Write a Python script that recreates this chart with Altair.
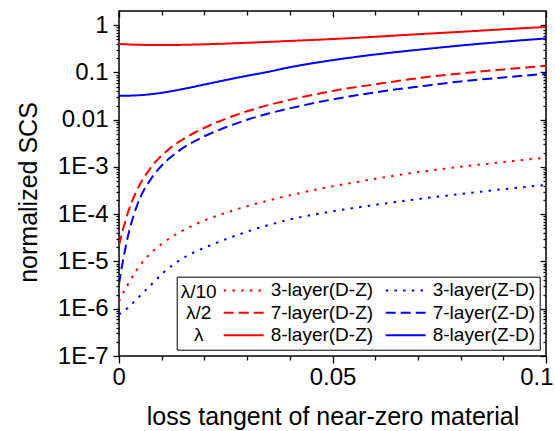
import altair as alt
import pandas as pd

# ---------------- data ----------------
series_names = ["3-layer(D-Z)", "7-layer(D-Z)", "8-layer(D-Z)",
                "3-layer(Z-D)", "7-layer(Z-D)", "8-layer(Z-D)"]
series_colors = ["#ff0000", "#ff0000", "#ff0000", "#0000ff", "#0000ff", "#0000ff"]

x_3dz = [0, 0.002, 0.004, 0.006, 0.008, 0.01, 0.0125, 0.015, 0.0175, 0.02, 0.025, 0.03,
         0.035, 0.04, 0.05, 0.06, 0.07, 0.08, 0.09, 0.1]
y_3dz = [1.45e-6, 3.16e-6, 6.31e-6, 1.10e-5, 1.66e-5, 2.34e-5, 3.39e-5, 4.57e-5, 5.89e-5,
         7.41e-5, 1.07e-4, 1.48e-4, 1.95e-4, 2.51e-4, 3.89e-4, 5.62e-4, 7.76e-4, 1.01e-3,
         1.27e-3, 1.58e-3]

x_3zd = [0, 0.002, 0.004, 0.006, 0.008, 0.01, 0.0125, 0.015, 0.0175, 0.02, 0.025, 0.03,
         0.035, 0.04, 0.05, 0.06, 0.07, 0.08, 0.09, 0.1]
y_3zd = [7.59e-7, 1.02e-6, 1.55e-6, 2.34e-6, 3.55e-6, 5.37e-6, 8.32e-6, 1.17e-5, 1.55e-5,
         1.95e-5, 2.95e-5, 4.27e-5, 5.89e-5, 7.76e-5, 1.15e-4, 1.58e-4, 2.09e-4, 2.69e-4,
         3.39e-4, 4.17e-4]

x_7dz = [0, 0.001, 0.002, 0.003, 0.004, 0.005, 0.006, 0.007, 0.008, 0.009, 0.01, 0.012,
         0.014, 0.016, 0.018, 0.02, 0.025, 0.03, 0.035, 0.04, 0.05, 0.06, 0.07, 0.08,
         0.09, 0.1]
y_7dz = [2.19e-5, 5.0e-5, 1.02e-4, 1.82e-4, 2.95e-4, 4.47e-4, 6.3e-4, 8.5e-4, 1.12e-3,
         1.41e-3, 1.74e-3, 2.51e-3, 3.39e-3, 4.37e-3, 5.5e-3, 6.76e-3, 0.0105, 0.0151,
         0.0204, 0.0263, 0.0407, 0.0562, 0.0759, 0.0955, 0.116, 0.138]

x_7zd = [0, 0.0005, 0.001, 0.002, 0.003, 0.004, 0.005, 0.006, 0.007, 0.008, 0.009, 0.01,
         0.012, 0.014, 0.016, 0.018, 0.02, 0.025, 0.03, 0.035, 0.04, 0.05, 0.06, 0.07,
         0.08, 0.09, 0.1]
y_7zd = [3.31e-6, 6.31e-6, 1.12e-5, 3.16e-5, 7.08e-5, 1.35e-4, 2.29e-4, 3.47e-4, 4.79e-4,
         6.46e-4, 8.51e-4, 1.07e-3, 1.58e-3, 2.19e-3, 2.88e-3, 3.63e-3, 4.47e-3, 6.92e-3,
         0.01, 0.0135, 0.0174, 0.0269, 0.038, 0.0501, 0.0646, 0.0785, 0.0933]

x_8dz = [0, 0.005, 0.01, 0.02, 0.03, 0.04, 0.05, 0.06, 0.07, 0.08, 0.09, 0.1]
y_8dz = [0.40, 0.385, 0.38, 0.395, 0.425, 0.465, 0.51, 0.57, 0.645, 0.725, 0.82, 0.92]

x_8zd = [0, 0.005, 0.01, 0.015, 0.02, 0.025, 0.03, 0.035, 0.04, 0.045, 0.05, 0.06, 0.07,
         0.08, 0.09, 0.1]
y_8zd = [0.032, 0.0331, 0.0372, 0.0447, 0.0556, 0.0692, 0.0851, 0.1035, 0.129, 0.155,
         0.182, 0.24, 0.302, 0.372, 0.447, 0.525]

series_x = [x_3dz, x_7dz, x_8dz, x_3zd, x_7zd, x_8zd]
series_y = [y_3dz, y_7dz, y_8dz, y_3zd, y_7zd, y_8zd]

legend_title_lines = ["λ/10", "λ/2", "λ"]

x_tick_values = [round(i * 0.01, 2) for i in range(11)]
x_tick_labels = {0.0: "0", 0.05: "0.05", 0.1: "0.1"}
y_decades = [1e-7, 1e-6, 1e-5, 1e-4, 1e-3, 1e-2, 1e-1, 1.0]
y_decade_labels = ["1E-7", "1E-6", "1E-5", "1E-4", "1E-3", "0.01", "0.1", "1"]

# ---------------- styling ----------------
series_dashes = [[2.5, 6.2], [10, 5], [1, 0], [2.5, 6.2], [10, 5], [1, 0]]
FONT = "Liberation Sans"

rows = []
for name, xs, ys in zip(series_names, series_x, series_y):
    for xv, yv in zip(xs, ys):
        rows.append({"series": name, "x": xv, "y": yv})
df = pd.DataFrame(rows)

y_tick_values = []
for d in y_decades:
    for k in range(1, 10):
        v = k * d
        if v <= 1.0 + 1e-12:
            y_tick_values.append(float(f"{v:.10g}"))

x_major_test = "abs(datum.value*20 - round(datum.value*20)) < 0.001"
y_major_test = "abs(log(datum.value)/LN10 - round(log(datum.value)/LN10)) < 0.001"

x_label_expr = ""
for v, lab in x_tick_labels.items():
    x_label_expr += f"abs(datum.value - {v}) < 1e-9 ? '{lab}' : "
x_label_expr += "''"

y_label_expr = ""
for v, lab in zip(y_decades, y_decade_labels):
    y_label_expr += f"abs(log(datum.value/{v})) < 0.001 ? '{lab}' : "
y_label_expr += "''"

x_scale = alt.Scale(domain=[0, 0.1], nice=False, zero=False)
y_scale = alt.Scale(type="log", domain=[1e-7, 2.0], nice=False)

bottom_axis = alt.Axis(
    orient="bottom", values=x_tick_values, labelExpr=x_label_expr,
    tickSize=7, tickWidth=1.3, tickColor="black",
    tickDash={"condition": {"test": x_major_test, "value": [7, 0]}, "value": [4, 20]},
    domain=False, grid=False,
    labelFont=FONT, labelFontSize=24, labelColor="black", labelPadding=2,
    labelFlush=True, labelFlushOffset=7, labelOverlap=False,
    title="loss tangent of near-zero material", titleFont=FONT, titleFontSize=25,
    titleFontWeight="normal", titleColor="black", titlePadding=15,
)
left_axis = alt.Axis(
    orient="left", values=y_tick_values, labelExpr=y_label_expr,
    tickSize=6, tickWidth=1.3, tickColor="black",
    tickDash={"condition": {"test": y_major_test, "value": [6, 0]}, "value": [3, 20]},
    domain=False, grid=False,
    labelFont=FONT, labelFontSize=24, labelColor="black", labelPadding=5,
    labelFlush=False, labelOverlap=False,
    title="normalized SCS", titleFont=FONT, titleFontSize=25, titleFontWeight="normal",
    titleColor="black", titlePadding=16, titleY=181,
)
# inward ticks along the top edge (grid lines dashed so only the edge piece shows)
top_axis = alt.Axis(
    orient="bottom", values=x_tick_values, labels=False, ticks=False, domain=False,
    grid=True, gridColor="black", gridWidth=1.3, gridOpacity=1,
    gridDash={"condition": {"test": x_major_test, "value": [6, 2000]}, "value": [4, 2000]},
    title=None,
)
# inward ticks along the right edge
right_axis = alt.Axis(
    orient="right", values=y_tick_values, labels=False, ticks=False, domain=False,
    grid=True, gridColor="black", gridWidth=1.3, gridOpacity=1,
    gridDash={"condition": {"test": y_major_test, "value": [6, 2000]}, "value": [3, 2000]},
    title=None,
)

leg = alt.Legend(
    title=legend_title_lines, titleOrient="left", titleAlign="center",
    titleFont=FONT, titleFontSize=19, titleFontWeight="normal", titleColor="black",
    titleLineHeight=21.5, titlePadding=-12,
    columns=2, orient="none", legendX=57.7, legendY=265.7,
    symbolType="stroke", symbolSize=1600, symbolStrokeWidth=2, clipHeight=19,
    labelFont=FONT, labelFontSize=19, labelColor="black", labelOffset=6, labelLimit=300,
    columnPadding=11, rowPadding=2.5, padding=4,
    strokeColor="black", fillColor="white",
)

color_scale = alt.Scale(domain=series_names, range=series_colors)
dash_scale = alt.Scale(domain=series_names, range=series_dashes)

lines = alt.Chart(df).mark_line(strokeWidth=2, interpolate="monotone", clip=True).encode(
    x=alt.X("x:Q", scale=x_scale, axis=bottom_axis),
    y=alt.Y("y:Q", scale=y_scale, axis=left_axis),
    color=alt.Color("series:N", scale=color_scale, legend=leg),
    strokeDash=alt.StrokeDash("series:N", scale=dash_scale, legend=leg),
    order=alt.Order("x:Q"),
)

mirror = alt.Chart(df).mark_point(opacity=0).encode(
    x=alt.X("x:Q", scale=x_scale, axis=top_axis),
    y=alt.Y("y:Q", scale=y_scale, axis=right_axis),
)

chart = (
    alt.layer(mirror, lines)
    .resolve_axis(x="independent", y="independent")
    .properties(
        width=427, height=345,
        autosize=alt.AutoSizeParams(type="none"),
        padding={"left": 119, "top": 11, "right": 9, "bottom": 75},
        background="white",
    )
    .configure_view(stroke="black", strokeWidth=1.5)
)

chart.save("out.html", embed_options={"renderer": "svg", "actions": False})
